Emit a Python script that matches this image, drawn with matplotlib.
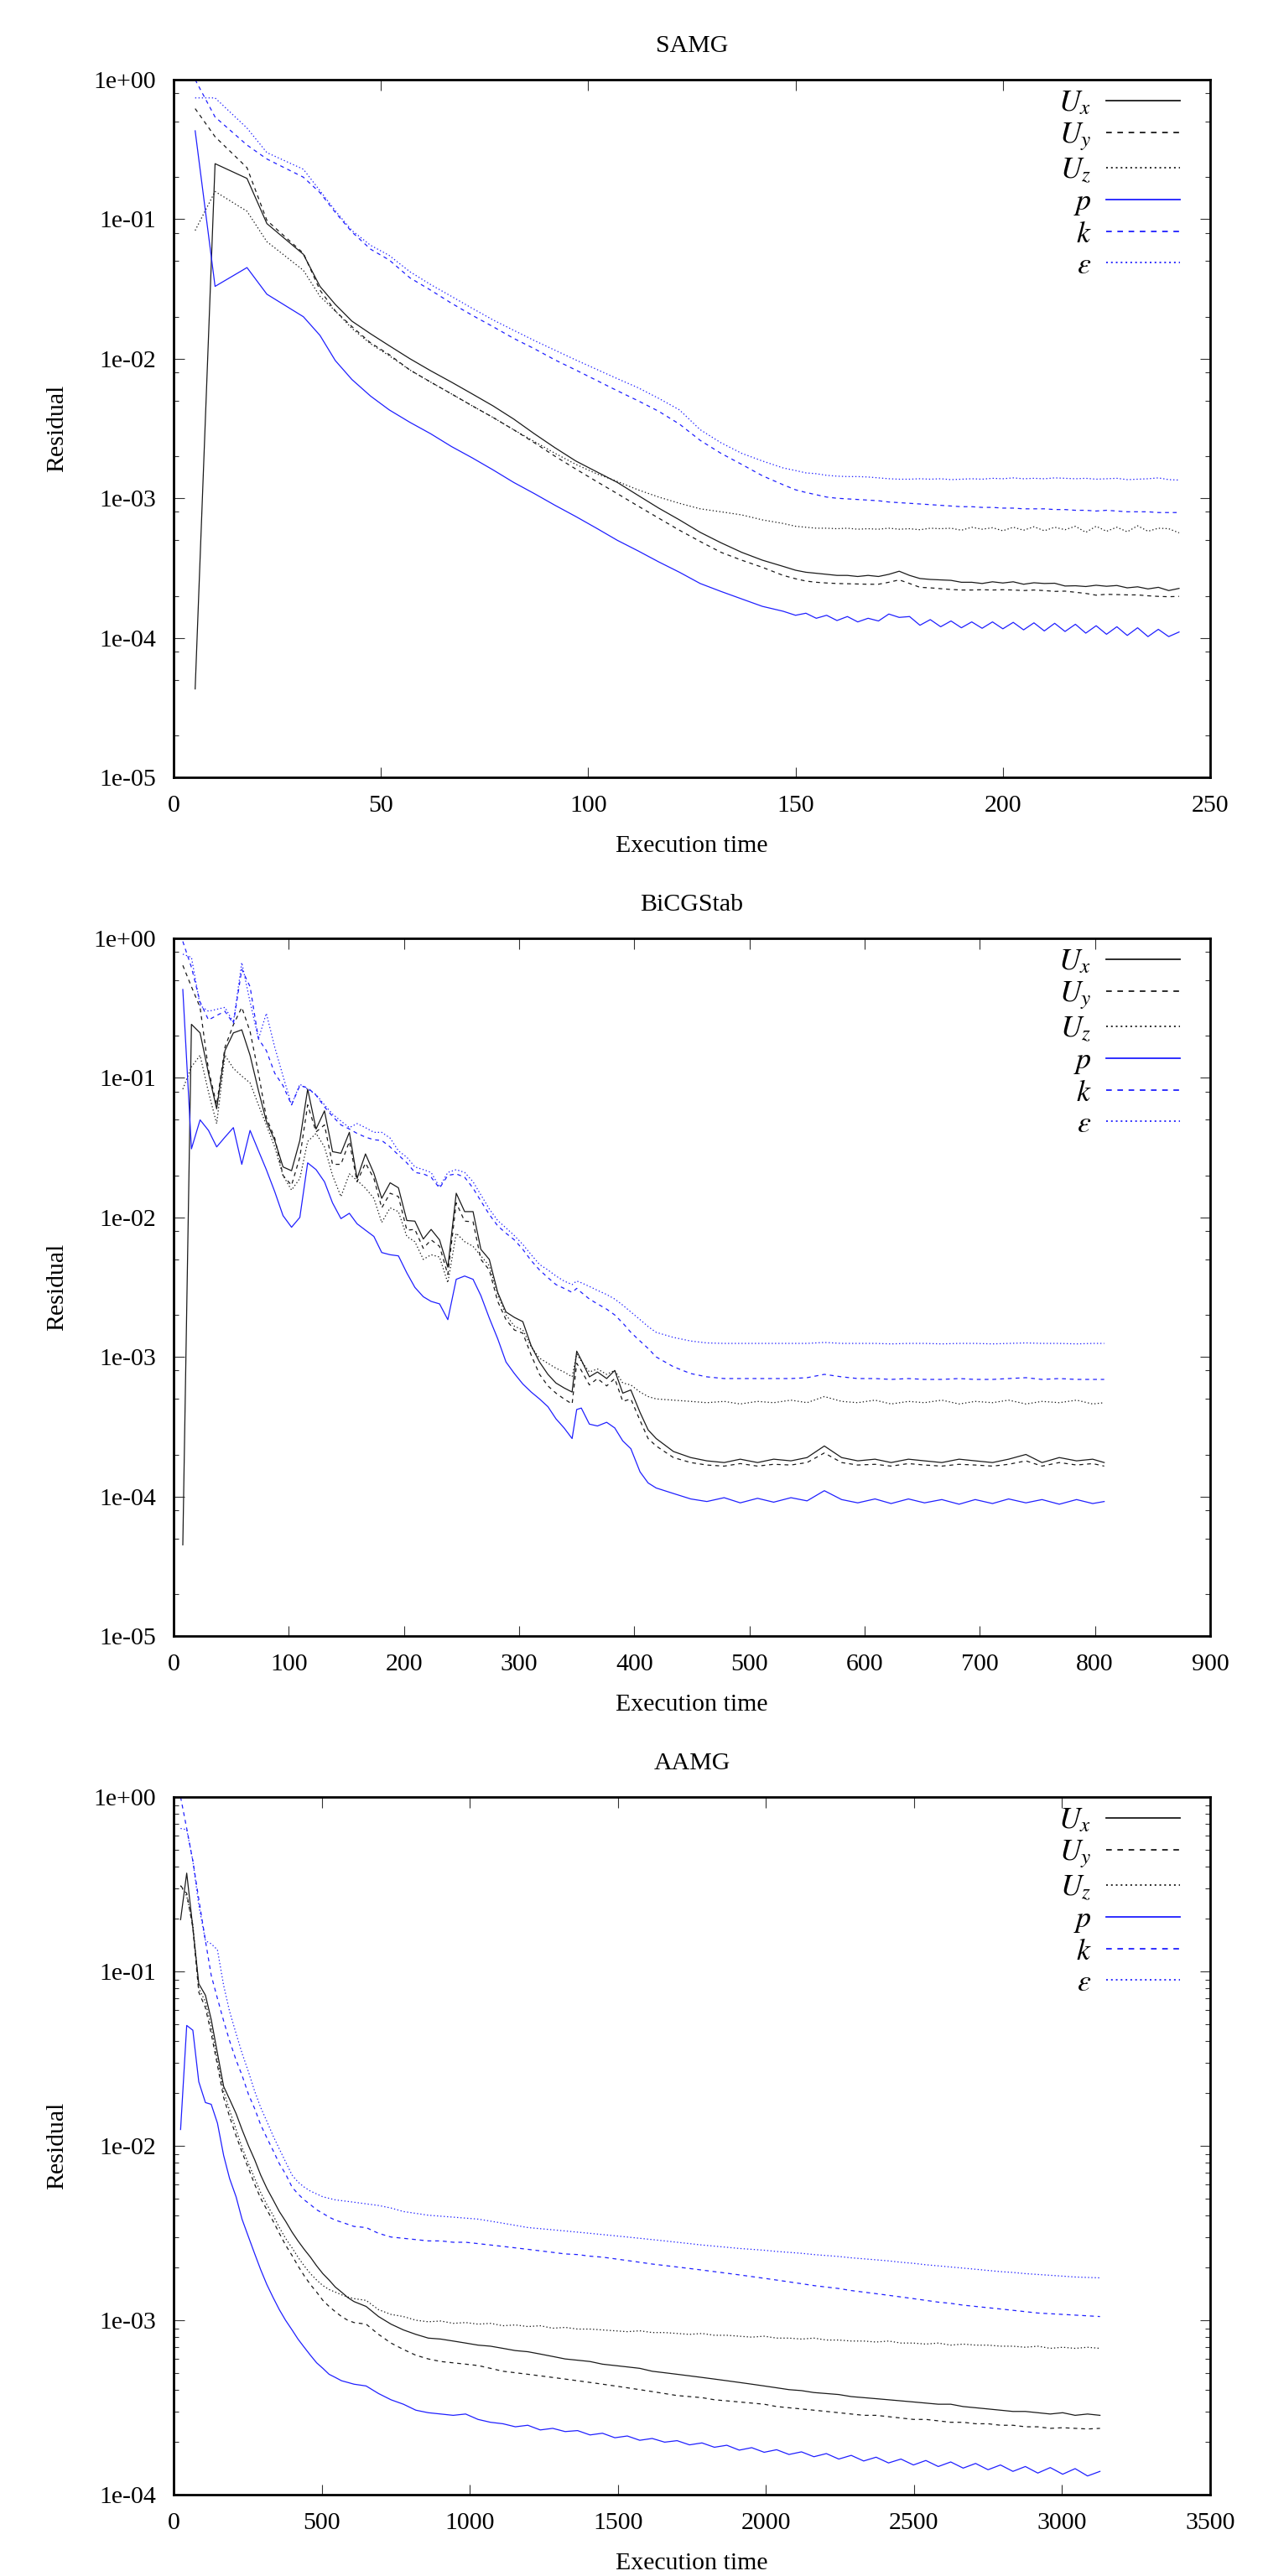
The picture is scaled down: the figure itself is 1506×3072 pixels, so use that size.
#!/usr/bin/env python
#
# Residual history of the SAMG / BiCGStab / AAMG solvers (log scale), three stacked panels.
#
# USAGE:
#   python plot.py
#
# OUTPUT:
#   out.png

import numpy as np
import matplotlib
matplotlib.use('Agg')
import matplotlib.pyplot as plt
import matplotlib.ticker as mticker

plt.rcParams['font.family'] = ['Liberation Serif', 'DejaVu Serif']
plt.rcParams['mathtext.fontset'] = 'stix'

# ---------------------------------------------------------------- SAMG
t_samg = [5.2, 10, 17.7, 22.5, 31.3, 35.3, 39, 43, 47.5, 52,
          57, 62, 67, 72, 77, 82, 87, 92, 97, 102, 107, 112, 117, 122, 127, 132, 137, 142, 147,
          150, 152.5, 155, 157.5, 160, 162.5, 165, 167.5, 170, 172.5, 175, 177.5, 180, 182.5, 185, 187.5,
          190, 192.5, 195, 197.5, 200, 202.5, 205, 207.5, 210, 212.5, 215, 217.5, 220, 222.5, 225, 227.5,
          230, 232.5, 235, 237.5, 240, 242.5]
ux_samg = [4.3e-5, 0.25, 0.196, 0.093, 0.056, 0.033, 0.0245, 0.0186, 0.0151, 0.0124,
           1.0e-2, 8.2e-3, 6.8e-3, 5.6e-3, 4.6e-3, 3.7e-3, 2.9e-3, 2.3e-3, 1.85e-3, 1.55e-3, 1.3e-3, 1.05e-3,
           8.5e-4, 7.0e-4, 5.7e-4, 4.8e-4, 4.1e-4, 3.6e-4, 3.25e-4,
           3.05e-4, 2.95e-4, 2.9e-4, 2.85e-4, 2.8e-4, 2.8e-4, 2.75e-4, 2.8e-4, 2.75e-4, 2.85e-4, 3.0e-4, 2.8e-4,
           2.66e-4, 2.62e-4, 2.6e-4, 2.58e-4, 2.5e-4, 2.5e-4, 2.45e-4, 2.52e-4, 2.47e-4, 2.52e-4, 2.42e-4,
           2.48e-4, 2.45e-4, 2.46e-4, 2.35e-4, 2.36e-4, 2.33e-4, 2.38e-4, 2.34e-4, 2.37e-4, 2.28e-4, 2.32e-4,
           2.24e-4, 2.3e-4, 2.18e-4, 2.26e-4]
uy_samg = [0.62, 0.39, 0.234, 0.098, 0.057, 0.031, 0.022, 0.017, 0.013, 0.0107,
           8.3e-3, 6.8e-3, 5.6e-3, 4.6e-3, 3.8e-3, 3.1e-3, 2.5e-3, 2.0e-3, 1.62e-3, 1.32e-3, 1.08e-3, 8.8e-4,
           7.2e-4, 5.9e-4, 4.9e-4, 4.1e-4, 3.6e-4, 3.2e-4, 2.8e-4,
           2.65e-4, 2.55e-4, 2.5e-4, 2.47e-4, 2.45e-4, 2.44e-4, 2.43e-4, 2.42e-4, 2.42e-4, 2.5e-4, 2.6e-4, 2.45e-4,
           2.3e-4, 2.28e-4, 2.25e-4, 2.22e-4, 2.2e-4, 2.2e-4, 2.21e-4, 2.2e-4, 2.21e-4, 2.2e-4, 2.18e-4,
           2.2e-4, 2.18e-4, 2.15e-4, 2.16e-4, 2.12e-4, 2.08e-4, 2.02e-4, 2.05e-4, 2.04e-4, 2.03e-4, 2.03e-4,
           2.0e-4, 1.98e-4, 1.97e-4, 1.98e-4]
uz_samg = [0.083, 0.158, 0.114, 0.069, 0.043, 0.028, 0.022, 0.0165, 0.0128, 0.0105,
           8.3e-3, 6.8e-3, 5.6e-3, 4.6e-3, 3.8e-3, 3.1e-3, 2.55e-3, 2.1e-3, 1.75e-3, 1.5e-3, 1.32e-3, 1.15e-3,
           1.02e-3, 9.2e-4, 8.4e-4, 8.0e-4, 7.6e-4, 7.0e-4, 6.6e-4,
           6.3e-4, 6.2e-4, 6.1e-4, 6.1e-4, 6.05e-4, 6.1e-4, 6.0e-4, 6.05e-4, 6.0e-4, 6.1e-4, 6.0e-4, 6.05e-4,
           5.95e-4, 6.1e-4, 6.05e-4, 6.1e-4, 5.9e-4, 6.2e-4, 6.0e-4, 6.15e-4, 5.85e-4, 6.2e-4, 5.9e-4,
           6.25e-4, 5.85e-4, 6.2e-4, 5.95e-4, 6.3e-4, 5.7e-4, 6.3e-4, 5.8e-4, 6.2e-4, 5.75e-4, 6.35e-4,
           5.8e-4, 6.1e-4, 6.05e-4, 5.65e-4]
p_samg = [0.43, 0.033, 0.045, 0.029, 0.020, 0.0147, 9.7e-3, 7.1e-3, 5.4e-3, 4.3e-3,
          3.5e-3, 2.9e-3, 2.35e-3, 1.95e-3, 1.6e-3, 1.3e-3, 1.08e-3, 8.9e-4, 7.4e-4, 6.1e-4, 5.0e-4, 4.2e-4,
          3.5e-4, 2.95e-4, 2.45e-4, 2.15e-4, 1.9e-4, 1.68e-4, 1.55e-4,
          1.45e-4, 1.5e-4, 1.38e-4, 1.45e-4, 1.33e-4, 1.42e-4, 1.3e-4, 1.38e-4, 1.32e-4, 1.48e-4, 1.4e-4, 1.42e-4,
          1.23e-4, 1.35e-4, 1.2e-4, 1.32e-4, 1.18e-4, 1.3e-4, 1.17e-4, 1.3e-4, 1.16e-4, 1.29e-4, 1.14e-4,
          1.28e-4, 1.12e-4, 1.27e-4, 1.11e-4, 1.25e-4, 1.08e-4, 1.22e-4, 1.06e-4, 1.2e-4, 1.04e-4, 1.18e-4,
          1.02e-4, 1.15e-4, 1.02e-4, 1.1e-4]
k_samg = [1.0, 0.54, 0.34, 0.27, 0.20, 0.155, 0.112, 0.081, 0.061, 0.051,
          0.038, 0.031, 0.025, 0.0205, 0.017, 0.014, 0.0118, 0.0098, 8.3e-3, 7.0e-3, 5.9e-3, 5.0e-3,
          4.2e-3, 3.4e-3, 2.6e-3, 2.1e-3, 1.75e-3, 1.45e-3, 1.25e-3,
          1.15e-3, 1.1e-3, 1.06e-3, 1.02e-3, 1.0e-3, 9.9e-4, 9.8e-4, 9.7e-4, 9.6e-4, 9.4e-4, 9.3e-4, 9.2e-4,
          9.1e-4, 9.0e-4, 8.9e-4, 8.8e-4, 8.7e-4, 8.7e-4, 8.6e-4, 8.6e-4, 8.5e-4, 8.5e-4, 8.4e-4,
          8.4e-4, 8.4e-4, 8.3e-4, 8.3e-4, 8.2e-4, 8.2e-4, 8.1e-4, 8.2e-4, 8.1e-4, 8.0e-4, 8.0e-4,
          8.0e-4, 7.9e-4, 7.9e-4, 7.9e-4]
eps_samg = [0.74, 0.74, 0.45, 0.30, 0.228, 0.16, 0.115, 0.083, 0.065, 0.055,
            0.042, 0.034, 0.028, 0.023, 0.019, 0.016, 0.0135, 0.0115, 9.8e-3, 8.4e-3, 7.2e-3, 6.2e-3,
            5.2e-3, 4.3e-3, 3.1e-3, 2.5e-3, 2.1e-3, 1.85e-3, 1.65e-3,
            1.58e-3, 1.52e-3, 1.5e-3, 1.46e-3, 1.44e-3, 1.43e-3, 1.43e-3, 1.42e-3, 1.4e-3, 1.38e-3, 1.37e-3, 1.37e-3,
            1.38e-3, 1.37e-3, 1.38e-3, 1.36e-3, 1.37e-3, 1.38e-3, 1.37e-3, 1.39e-3, 1.38e-3, 1.4e-3, 1.38e-3,
            1.39e-3, 1.38e-3, 1.4e-3, 1.39e-3, 1.38e-3, 1.39e-3, 1.37e-3, 1.38e-3, 1.39e-3, 1.36e-3, 1.37e-3,
            1.38e-3, 1.4e-3, 1.36e-3, 1.35e-3]

# ---------------------------------------------------------------- BiCGStab
t_bicg = [8, 15.5, 23, 30.3, 37.4, 44.6, 51.9, 59.2, 66.4, 73.7, 80.5, 87.8, 95, 102.4, 109.6, 116.4,
          123.7, 131, 138, 145.3, 152.6, 159.3, 166.6, 173.9, 180.7, 188, 195.2, 202.5, 209.5, 216.8,
          223.6, 230.9, 238.1, 245.4, 252.7, 260, 266.8, 274.1, 281.4, 288.6, 295.9, 303.2, 310.5, 317.7,
          325, 332, 339, 346, 350, 354, 361, 368, 376, 383, 390, 397, 405, 412, 419,
          434, 449, 463, 478, 492, 507, 521, 536, 550, 565, 580, 594, 609, 623, 638, 652, 667, 682, 696,
          711, 725, 740, 754, 769, 784, 798, 808]
ux_bicg = [4.5e-5, 0.242, 0.21, 0.108, 0.060, 0.157, 0.21, 0.221, 0.145, 0.081, 0.049, 0.0356, 0.023,
           0.0216, 0.0356, 0.083, 0.043, 0.058, 0.0296, 0.0288, 0.0407, 0.019, 0.0285, 0.0207, 0.0137,
           0.0177, 0.0163, 9.5e-3, 9.4e-3, 7.0e-3, 8.2e-3, 6.9e-3, 4.4e-3, 0.0149, 0.011, 0.011, 5.9e-3,
           5.0e-3, 2.9e-3, 2.1e-3, 1.92e-3, 1.79e-3, 1.2e-3, 9.2e-4,
           7.5e-4, 6.5e-4, 6.0e-4, 5.6e-4, 1.1e-3, 9.5e-4, 7.2e-4, 7.8e-4, 7.0e-4, 8.0e-4, 5.5e-4, 5.8e-4,
           4.0e-4, 3.0e-4, 2.6e-4,
           2.1e-4, 1.9e-4, 1.8e-4, 1.75e-4, 1.85e-4, 1.75e-4, 1.85e-4, 1.8e-4, 1.9e-4, 2.3e-4, 1.9e-4, 1.8e-4,
           1.85e-4, 1.75e-4, 1.85e-4, 1.8e-4, 1.75e-4, 1.85e-4, 1.8e-4, 1.75e-4, 1.85e-4, 2.0e-4, 1.75e-4,
           1.9e-4, 1.8e-4, 1.85e-4, 1.75e-4]
uy_bicg = [0.64, 0.45, 0.32, 0.114, 0.064, 0.166, 0.24, 0.32, 0.215, 0.108, 0.052, 0.037, 0.020, 0.017,
           0.027, 0.064, 0.041, 0.046, 0.024, 0.024, 0.035, 0.018, 0.0245, 0.019, 0.0117, 0.0149, 0.0141,
           8.1e-3, 8.2e-3, 6.0e-3, 6.9e-3, 6.2e-3, 3.9e-3, 0.0127, 9.4e-3, 9.3e-3, 5.0e-3, 4.2e-3, 2.5e-3,
           1.85e-3, 1.56e-3, 1.48e-3, 1.03e-3, 7.5e-4,
           6.2e-4, 5.5e-4, 5.0e-4, 4.6e-4, 9.0e-4, 8.0e-4, 6.3e-4, 7.0e-4, 6.2e-4, 7.0e-4, 4.8e-4, 5.0e-4,
           3.5e-4, 2.6e-4, 2.3e-4,
           1.9e-4, 1.75e-4, 1.68e-4, 1.65e-4, 1.72e-4, 1.65e-4, 1.7e-4, 1.68e-4, 1.75e-4, 2.05e-4, 1.75e-4,
           1.68e-4, 1.7e-4, 1.65e-4, 1.72e-4, 1.68e-4, 1.65e-4, 1.7e-4, 1.68e-4, 1.65e-4, 1.7e-4, 1.8e-4,
           1.65e-4, 1.75e-4, 1.68e-4, 1.72e-4, 1.65e-4]
uz_bicg = [0.083, 0.12, 0.145, 0.079, 0.047, 0.145, 0.117, 0.103, 0.092, 0.064, 0.046, 0.032, 0.020,
           0.0157, 0.019, 0.035, 0.040, 0.032, 0.020, 0.0141, 0.0205, 0.0184, 0.0162, 0.0137, 9.2e-3,
           0.0117, 0.011, 7.3e-3, 6.7e-3, 5.0e-3, 5.4e-3, 5.2e-3, 3.4e-3, 7.7e-3, 6.7e-3, 6.2e-3, 5.3e-3,
           4.5e-3, 2.8e-3, 2.0e-3, 1.66e-3, 1.56e-3, 1.18e-3, 9.8e-4,
           9.0e-4, 8.3e-4, 7.8e-4, 7.2e-4, 1.05e-3, 9.3e-4, 7.8e-4, 8.2e-4, 7.5e-4, 8.0e-4, 6.5e-4, 6.3e-4,
           5.6e-4, 5.2e-4, 5.0e-4,
           4.9e-4, 4.8e-4, 4.7e-4, 4.8e-4, 4.6e-4, 4.8e-4, 4.7e-4, 4.9e-4, 4.7e-4, 5.2e-4, 4.8e-4, 4.7e-4,
           4.9e-4, 4.6e-4, 4.8e-4, 4.7e-4, 4.9e-4, 4.6e-4, 4.8e-4, 4.7e-4, 4.9e-4, 4.6e-4, 4.8e-4, 4.7e-4,
           4.9e-4, 4.6e-4, 4.7e-4]
p_bicg = [0.43, 0.031, 0.050, 0.042, 0.032, 0.0376, 0.044, 0.024, 0.042, 0.030, 0.022, 0.0153, 0.0103,
          8.5e-3, 0.010, 0.0246, 0.022, 0.018, 0.0127, 9.8e-3, 0.0107, 9.0e-3, 8.1e-3, 7.3e-3, 5.6e-3,
          5.4e-3, 5.3e-3, 4.0e-3, 3.15e-3, 2.7e-3, 2.5e-3, 2.4e-3, 1.85e-3, 3.6e-3, 3.8e-3, 3.6e-3, 2.75e-3,
          1.9e-3, 1.35e-3, 9.2e-4, 7.6e-4, 6.4e-4, 5.6e-4, 5.0e-4,
          4.4e-4, 3.6e-4, 3.1e-4, 2.6e-4, 4.2e-4, 4.3e-4, 3.3e-4, 3.2e-4, 3.4e-4, 3.1e-4, 2.5e-4, 2.2e-4,
          1.5e-4, 1.25e-4, 1.15e-4,
          1.05e-4, 9.6e-5, 9.2e-5, 9.8e-5, 9.0e-5, 9.7e-5, 9.1e-5, 9.8e-5, 9.3e-5, 1.1e-4, 9.5e-5, 9.0e-5,
          9.6e-5, 8.9e-5, 9.6e-5, 9.0e-5, 9.5e-5, 8.8e-5, 9.5e-5, 8.9e-5, 9.6e-5, 9.0e-5, 9.5e-5, 8.8e-5,
          9.5e-5, 8.9e-5, 9.2e-5]
k_bicg = [0.95, 0.62, 0.35, 0.26, 0.28, 0.30, 0.245, 0.6, 0.45, 0.19, 0.157, 0.108, 0.088, 0.064, 0.088,
          0.085, 0.075, 0.062, 0.053, 0.046, 0.043, 0.040, 0.0376, 0.036, 0.0356, 0.032, 0.028, 0.0246,
          0.021, 0.0205, 0.0194, 0.0162, 0.020, 0.0205, 0.0194, 0.0162, 0.0131, 0.0105, 8.7e-3, 7.7e-3,
          6.9e-3, 5.9e-3, 4.9e-3, 4.2e-3,
          3.7e-3, 3.3e-3, 3.1e-3, 2.9e-3, 3.1e-3, 2.9e-3, 2.6e-3, 2.4e-3, 2.2e-3, 2.0e-3, 1.75e-3, 1.5e-3,
          1.3e-3, 1.15e-3, 1.0e-3,
          8.5e-4, 7.6e-4, 7.2e-4, 7.0e-4, 7.0e-4, 7.0e-4, 7.0e-4, 7.0e-4, 7.1e-4, 7.5e-4, 7.2e-4, 7.0e-4,
          7.0e-4, 6.9e-4, 7.0e-4, 6.9e-4, 6.9e-4, 7.0e-4, 6.9e-4, 6.9e-4, 7.0e-4, 7.1e-4, 6.9e-4, 7.0e-4,
          6.9e-4, 6.9e-4, 6.9e-4]
eps_bicg = [0.77, 0.73, 0.33, 0.30, 0.31, 0.32, 0.25, 0.67, 0.35, 0.19, 0.29, 0.166, 0.103, 0.064, 0.09,
            0.083, 0.076, 0.064, 0.055, 0.049, 0.044, 0.047, 0.044, 0.0407, 0.0407, 0.037, 0.030, 0.027,
            0.023, 0.022, 0.021, 0.0165, 0.021, 0.022, 0.021, 0.018, 0.0145, 0.0115, 9.5e-3, 8.4e-3,
            7.4e-3, 6.4e-3, 5.4e-3, 4.6e-3,
            4.2e-3, 3.8e-3, 3.5e-3, 3.3e-3, 3.5e-3, 3.4e-3, 3.2e-3, 3.0e-3, 2.8e-3, 2.6e-3, 2.35e-3, 2.1e-3,
            1.85e-3, 1.65e-3, 1.5e-3,
            1.38e-3, 1.3e-3, 1.26e-3, 1.25e-3, 1.25e-3, 1.25e-3, 1.25e-3, 1.25e-3, 1.25e-3, 1.27e-3, 1.25e-3,
            1.25e-3, 1.25e-3, 1.24e-3, 1.25e-3, 1.25e-3, 1.24e-3, 1.25e-3, 1.25e-3, 1.24e-3, 1.25e-3,
            1.26e-3, 1.25e-3, 1.25e-3, 1.24e-3, 1.25e-3, 1.25e-3]

# ---------------------------------------------------------------- AAMG
t_aamg = [23.6, 44.3, 65, 85, 107.5, 127, 148, 169, 189, 211, 231, 253, 274, 294, 315, 336, 357, 378,
          400, 420, 441, 462, 483, 504, 525, 546, 567, 588, 609,
          650, 692, 734, 776, 818, 860, 902, 944, 986, 1028,
          1070, 1112, 1154, 1196, 1238, 1280, 1322, 1364, 1406, 1448,
          1490, 1532, 1574, 1616, 1658, 1700, 1742, 1784, 1826, 1868,
          1910, 1952, 1994, 2036, 2078, 2120, 2162, 2204, 2246, 2288,
          2330, 2372, 2414, 2456, 2498, 2540, 2582, 2624, 2666, 2708,
          2750, 2792, 2834, 2876, 2918, 2960, 3002, 3044, 3086, 3128]
ux_aamg = [0.198, 0.366, 0.178, 0.085, 0.073, 0.053, 0.034, 0.0219, 0.0185, 0.0153, 0.0124, 0.010,
           8.3e-3, 6.8e-3, 5.7e-3, 4.9e-3, 4.2e-3, 3.7e-3, 3.2e-3, 2.85e-3, 2.55e-3, 2.3e-3, 2.05e-3,
           1.85e-3, 1.7e-3, 1.55e-3, 1.45e-3, 1.35e-3, 1.28e-3,
           1.2e-3, 1.05e-3, 9.5e-4, 8.8e-4, 8.3e-4, 7.9e-4, 7.8e-4, 7.6e-4, 7.4e-4, 7.2e-4,
           7.1e-4, 6.9e-4, 6.7e-4, 6.6e-4, 6.4e-4, 6.2e-4, 6.0e-4, 5.9e-4, 5.8e-4, 5.6e-4,
           5.5e-4, 5.4e-4, 5.3e-4, 5.1e-4, 5.0e-4, 4.9e-4, 4.8e-4, 4.7e-4, 4.6e-4, 4.5e-4,
           4.4e-4, 4.3e-4, 4.2e-4, 4.1e-4, 4.0e-4, 3.95e-4, 3.85e-4, 3.8e-4, 3.75e-4, 3.65e-4,
           3.6e-4, 3.55e-4, 3.5e-4, 3.45e-4, 3.4e-4, 3.35e-4, 3.3e-4, 3.3e-4, 3.2e-4, 3.15e-4,
           3.1e-4, 3.05e-4, 3.0e-4, 3.0e-4, 2.95e-4, 2.9e-4, 2.95e-4, 2.85e-4, 2.9e-4, 2.85e-4]
uy_aamg = [0.31, 0.28, 0.178, 0.076, 0.062, 0.044, 0.029, 0.0189, 0.0147, 0.0114, 9.2e-3, 7.4e-3,
           6.0e-3, 5.0e-3, 4.3e-3, 3.7e-3, 3.15e-3, 2.7e-3, 2.35e-3, 2.05e-3, 1.8e-3, 1.6e-3, 1.45e-3,
           1.3e-3, 1.2e-3, 1.12e-3, 1.05e-3, 1.0e-3, 9.7e-4,
           9.5e-4, 8.3e-4, 7.4e-4, 6.8e-4, 6.3e-4, 6.0e-4, 5.8e-4, 5.7e-4, 5.6e-4, 5.5e-4,
           5.3e-4, 5.1e-4, 5.0e-4, 4.9e-4, 4.8e-4, 4.7e-4, 4.6e-4, 4.5e-4, 4.4e-4, 4.3e-4,
           4.2e-4, 4.1e-4, 4.0e-4, 3.9e-4, 3.8e-4, 3.7e-4, 3.65e-4, 3.6e-4, 3.5e-4, 3.45e-4,
           3.4e-4, 3.35e-4, 3.3e-4, 3.2e-4, 3.15e-4, 3.1e-4, 3.05e-4, 3.0e-4, 2.95e-4, 2.9e-4,
           2.85e-4, 2.85e-4, 2.8e-4, 2.75e-4, 2.7e-4, 2.7e-4, 2.65e-4, 2.6e-4, 2.6e-4, 2.55e-4,
           2.55e-4, 2.5e-4, 2.5e-4, 2.45e-4, 2.45e-4, 2.4e-4, 2.42e-4, 2.4e-4, 2.38e-4, 2.4e-4]
uz_aamg = [0.31, 0.27, 0.186, 0.08, 0.067, 0.048, 0.031, 0.0205, 0.016, 0.0124, 9.8e-3, 7.9e-3,
           6.5e-3, 5.4e-3, 4.6e-3, 4.0e-3, 3.4e-3, 2.95e-3, 2.6e-3, 2.3e-3, 2.05e-3, 1.85e-3, 1.7e-3,
           1.58e-3, 1.5e-3, 1.45e-3, 1.4e-3, 1.36e-3, 1.33e-3,
           1.3e-3, 1.15e-3, 1.08e-3, 1.05e-3, 1.0e-3, 9.8e-4, 9.9e-4, 9.6e-4, 9.7e-4, 9.5e-4,
           9.6e-4, 9.3e-4, 9.4e-4, 9.2e-4, 9.3e-4, 9.0e-4, 9.1e-4, 8.9e-4, 8.9e-4, 8.8e-4,
           8.7e-4, 8.6e-4, 8.7e-4, 8.5e-4, 8.5e-4, 8.4e-4, 8.3e-4, 8.4e-4, 8.2e-4, 8.2e-4,
           8.1e-4, 8.0e-4, 8.1e-4, 7.9e-4, 7.9e-4, 7.8e-4, 7.9e-4, 7.7e-4, 7.7e-4, 7.6e-4,
           7.6e-4, 7.5e-4, 7.6e-4, 7.4e-4, 7.4e-4, 7.3e-4, 7.4e-4, 7.2e-4, 7.3e-4, 7.2e-4,
           7.2e-4, 7.1e-4, 7.1e-4, 7.0e-4, 7.1e-4, 6.9e-4, 7.0e-4, 6.9e-4, 7.0e-4, 6.9e-4]
p_aamg = [0.0124, 0.049, 0.046, 0.0233, 0.0177, 0.0173, 0.0135, 8.8e-3, 6.5e-3, 5.1e-3, 3.8e-3, 3.0e-3,
          2.4e-3, 1.95e-3, 1.6e-3, 1.35e-3, 1.15e-3, 1.0e-3, 8.8e-4, 7.8e-4, 7.0e-4, 6.3e-4, 5.7e-4,
          5.3e-4, 4.9e-4, 4.7e-4, 4.5e-4, 4.4e-4, 4.3e-4,
          4.2e-4, 3.8e-4, 3.5e-4, 3.3e-4, 3.05e-4, 2.95e-4, 2.9e-4, 2.85e-4, 2.9e-4, 2.7e-4,
          2.6e-4, 2.55e-4, 2.45e-4, 2.5e-4, 2.35e-4, 2.4e-4, 2.3e-4, 2.33e-4, 2.2e-4, 2.25e-4,
          2.12e-4, 2.17e-4, 2.05e-4, 2.1e-4, 2.0e-4, 2.04e-4, 1.93e-4, 1.98e-4, 1.87e-4, 1.92e-4,
          1.8e-4, 1.86e-4, 1.75e-4, 1.81e-4, 1.7e-4, 1.76e-4, 1.65e-4, 1.72e-4, 1.6e-4, 1.68e-4,
          1.56e-4, 1.64e-4, 1.52e-4, 1.6e-4, 1.48e-4, 1.57e-4, 1.45e-4, 1.54e-4, 1.42e-4, 1.51e-4,
          1.39e-4, 1.48e-4, 1.36e-4, 1.45e-4, 1.33e-4, 1.43e-4, 1.31e-4, 1.41e-4, 1.28e-4, 1.36e-4]
k_aamg = [1.0, 0.66, 0.43, 0.26, 0.15, 0.095, 0.070, 0.052, 0.040, 0.031, 0.0254, 0.0197, 0.0163,
          0.0132, 0.0111, 9.4e-3, 7.9e-3, 6.9e-3, 5.8e-3, 5.3e-3, 4.9e-3, 4.6e-3, 4.3e-3, 4.1e-3,
          3.9e-3, 3.75e-3, 3.65e-3, 3.55e-3, 3.45e-3,
          3.4e-3, 3.15e-3, 3.0e-3, 2.95e-3, 2.9e-3, 2.85e-3, 2.85e-3, 2.8e-3, 2.8e-3, 2.75e-3,
          2.7e-3, 2.65e-3, 2.6e-3, 2.55e-3, 2.5e-3, 2.45e-3, 2.4e-3, 2.38e-3, 2.33e-3, 2.3e-3,
          2.25e-3, 2.2e-3, 2.15e-3, 2.1e-3, 2.06e-3, 2.02e-3, 1.98e-3, 1.94e-3, 1.9e-3, 1.86e-3,
          1.82e-3, 1.78e-3, 1.74e-3, 1.7e-3, 1.66e-3, 1.62e-3, 1.58e-3, 1.55e-3, 1.52e-3, 1.48e-3,
          1.45e-3, 1.42e-3, 1.39e-3, 1.36e-3, 1.33e-3, 1.3e-3, 1.27e-3, 1.25e-3, 1.22e-3, 1.2e-3,
          1.18e-3, 1.16e-3, 1.14e-3, 1.12e-3, 1.1e-3, 1.09e-3, 1.08e-3, 1.07e-3, 1.06e-3, 1.05e-3]
eps_aamg = [0.66, 0.65, 0.43, 0.24, 0.15, 0.144, 0.133, 0.083, 0.059, 0.044, 0.034, 0.0265, 0.0205,
            0.0166, 0.0138, 0.0114, 9.6e-3, 8.1e-3, 6.8e-3, 6.2e-3, 5.8e-3, 5.5e-3, 5.3e-3, 5.1e-3,
            5.0e-3, 4.9e-3, 4.85e-3, 4.8e-3, 4.75e-3,
            4.65e-3, 4.55e-3, 4.4e-3, 4.2e-3, 4.1e-3, 4.0e-3, 3.95e-3, 3.9e-3, 3.85e-3, 3.8e-3,
            3.7e-3, 3.6e-3, 3.5e-3, 3.4e-3, 3.35e-3, 3.3e-3, 3.25e-3, 3.2e-3, 3.15e-3, 3.1e-3,
            3.05e-3, 3.0e-3, 2.95e-3, 2.9e-3, 2.85e-3, 2.8e-3, 2.75e-3, 2.7e-3, 2.66e-3, 2.62e-3,
            2.58e-3, 2.55e-3, 2.52e-3, 2.48e-3, 2.45e-3, 2.42e-3, 2.38e-3, 2.35e-3, 2.32e-3, 2.28e-3,
            2.25e-3, 2.22e-3, 2.19e-3, 2.15e-3, 2.12e-3, 2.08e-3, 2.05e-3, 2.02e-3, 1.99e-3, 1.96e-3,
            1.93e-3, 1.9e-3, 1.88e-3, 1.85e-3, 1.83e-3, 1.81e-3, 1.79e-3, 1.77e-3, 1.76e-3, 1.75e-3]

labels = [r'$U_x$', r'$U_y$', r'$U_z$', r'$p$', r'$k$', r'$\varepsilon$']

panels = [
    ('SAMG', t_samg, [ux_samg, uy_samg, uz_samg, p_samg, k_samg, eps_samg], 250, 50, -5, [2, 5, 8]),
    ('BiCGStab', t_bicg, [ux_bicg, uy_bicg, uz_bicg, p_bicg, k_bicg, eps_bicg], 900, 100, -5, [2, 5, 8]),
    ('AAMG', t_aamg, [ux_aamg, uy_aamg, uz_aamg, p_aamg, k_aamg, eps_aamg], 3500, 500, -4,
     [2, 3, 4, 5, 6, 7, 8, 9]),
]


def main():
    W, H = 1506, 3072
    fig = plt.figure(figsize=(W / 100, H / 100), dpi=100)
    fontsize = 21.5
    black = '#1a1a1a'
    blue = '#1f1fff'
    lw = 0.9
    dash = (3.7, 3.7)
    dot = (1.1, 2.1)
    styles = [(black, None), (black, dash), (black, dot), (blue, None), (blue, dash), (blue, dot)]

    for i, (title, t, series, xmax, xstep, ymin_exp, subs) in enumerate(panels):
        bottom = (H - i * 1024 - 927) / H
        ax = fig.add_axes([207 / W, bottom, (1443 - 207) / W, 832 / H])
        for vals, lab, (col, dsh) in zip(series, labels, styles):
            if len(vals) != len(t):
                raise ValueError(f'{title} {lab}: {len(vals)} values vs {len(t)} times')
            line, = ax.plot(t, vals, color=col, lw=lw, label=lab)
            if dsh is not None:
                line.set_dashes(dsh)
        ax.set_yscale('log')
        ax.set_xlim(0, xmax)
        ax.set_ylim(10.0 ** ymin_exp, 1)
        ax.xaxis.set_major_locator(mticker.MultipleLocator(xstep))
        yt = [10.0 ** e for e in range(ymin_exp, 1)]
        ax.yaxis.set_major_locator(mticker.FixedLocator(yt))
        ax.set_yticklabels(['1e%+03d' % e for e in range(ymin_exp, 1)])
        ax.yaxis.set_minor_locator(mticker.LogLocator(base=10, subs=subs, numticks=20))
        ax.yaxis.set_minor_formatter(mticker.NullFormatter())
        ax.tick_params(which='both', direction='in', top=True, right=True, labelsize=fontsize,
                       color='#333333', width=0.8)
        ax.tick_params(which='major', length=9, pad=15)
        ax.tick_params(which='minor', length=4.5)
        for sp in ax.spines.values():
            sp.set_linewidth(2.0)
        ax.set_title(title, fontsize=fontsize, pad=24)
        ax.set_xlabel('Execution time', fontsize=fontsize, labelpad=16)
        ax.set_ylabel('Residual', fontsize=fontsize, labelpad=22)
        leg = ax.legend(loc='upper right', bbox_to_anchor=(1 - 36 / 1236, 1 - 12 / 832), frameon=False,
                        markerfirst=False, fontsize=fontsize * 1.2, handlelength=2.45, handletextpad=0.5,
                        labelspacing=0.12, borderpad=0, borderaxespad=0)
        for ln in leg.get_lines():
            ln.set_linewidth(1.3)

    fig.savefig('out.png', dpi=100)


if __name__ == '__main__':
    main()
